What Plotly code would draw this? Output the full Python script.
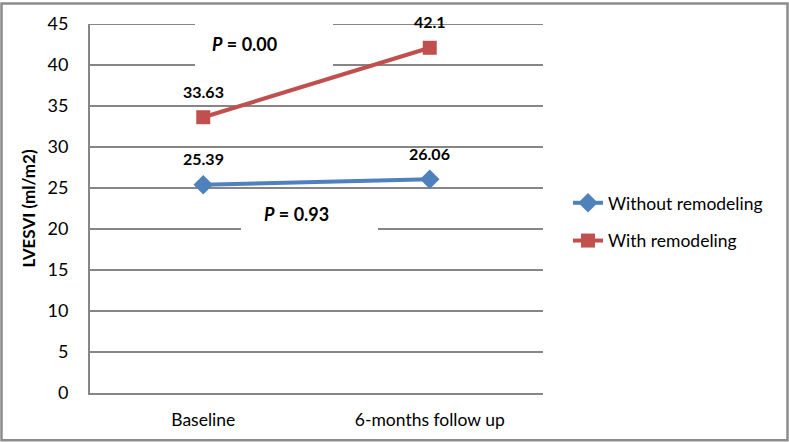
import plotly.graph_objects as go

categories = ["Baseline", "6-months follow up"]
without_remodeling = [25.39, 26.06]
with_remodeling = [33.63, 42.1]
series_names = ["Without remodeling", "With remodeling"]
y_ticks = [0, 5, 10, 15, 20, 25, 30, 35, 40, 45]
p_labels = ["<b><i>P</i> = 0.00</b>", "<b><i>P</i> = 0.93</b>"]

FONT = "Lato"
BLUE = "#4F81BD"
RED = "#C0504D"
GRID = "#868686"

fig = go.Figure()
fig.add_trace(go.Scatter(
    x=categories, y=without_remodeling, name=series_names[0],
    mode="lines+markers", legendgroup="a",
    line=dict(color=BLUE, width=4),
    marker=dict(symbol="diamond", size=15, color=BLUE),
))
fig.add_trace(go.Scatter(
    x=categories, y=with_remodeling, name=series_names[1],
    mode="lines+markers", legendgroup="b",
    line=dict(color=RED, width=4),
    marker=dict(symbol="square", size=14, color=RED),
))

annotations = []
for series in (without_remodeling, with_remodeling):
    for c, v in zip(categories, series):
        annotations.append(dict(
            x=c, y=v, xref="x", yref="y", text=f"<b>{v:g}</b>",
            showarrow=False, yshift=26,
            font=dict(family=FONT, size=16, color="black"),
        ))

def px_x(p):
    return (p - 90) / 453

def px_y(p):
    return (393 - p) / 371

# P-value labels
annotations.append(dict(
    xref="paper", yref="paper", x=px_x(244), y=px_y(42),
    xanchor="center", yanchor="middle",
    text=p_labels[0], showarrow=False,
    font=dict(family=FONT, size=18, color="black"),
))
annotations.append(dict(
    xref="paper", yref="paper", x=px_x(296), y=px_y(213),
    xanchor="center", yanchor="middle",
    text=p_labels[1], showarrow=False,
    font=dict(family=FONT, size=18, color="black"),
))

shapes = []
# horizontal gridlines (below traces)
for t in y_ticks[1:]:
    shapes.append(dict(type="line", xref="paper", yref="y",
                       x0=0, x1=1, y0=t, y1=t,
                       line=dict(color=GRID, width=2), layer="below"))
# white boxes behind P labels: hide gridlines, not traces
shapes += [
    dict(type="rect", xref="paper", yref="paper",
         x0=px_x(195), x1=px_x(333), y0=px_y(70), y1=px_y(12),
         fillcolor="white", line=dict(width=0), layer="below"),
    dict(type="rect", xref="paper", yref="paper",
         x0=px_x(241), x1=px_x(378), y0=px_y(235), y1=px_y(198),
         fillcolor="white", line=dict(width=0), layer="below"),
    # outer frame
    dict(type="rect", xref="paper", yref="paper",
         x0=px_x(1.5), x1=px_x(787.5), y0=px_y(440.5), y1=px_y(1.5),
         line=dict(color="#8c8c8c", width=2.5), layer="above"),
]

fig.update_layout(
    width=789, height=442,
    margin=dict(l=90, r=246, t=22, b=49),
    paper_bgcolor="white", plot_bgcolor="white",
    font=dict(family=FONT, size=17, color="black"),
    showlegend=True,
    legend=dict(
        x=px_x(568), y=px_y(221), xanchor="left", yanchor="middle",
        traceorder="grouped", tracegroupgap=12,
        font=dict(family=FONT, size=17.5, color="black"),
        bgcolor="rgba(0,0,0,0)",
    ),
    annotations=annotations,
    shapes=shapes,
)
fig.update_xaxes(
    type="category", range=[-0.5, 1.5],
    showgrid=False, showline=True, linecolor=GRID, linewidth=2,
    ticks="", tickfont=dict(family=FONT, size=17.5, color="black"),
    ticklabelstandoff=10,
    zeroline=False,
)
fig.update_yaxes(
    range=[0, 45], tickvals=y_ticks, showgrid=False,
    showline=True, linecolor=GRID, linewidth=2, ticks="",
    tickfont=dict(family=FONT, size=18, color="black"),
    ticklabelstandoff=16,
    title=dict(text="<b>LVESVI (ml/m2)</b>", font=dict(family=FONT, size=17), standoff=8),
    zeroline=False,
)

fig.write_html("out.html", config={"displayModeBar": False},
               post_script="document.body.style.margin='0';")
